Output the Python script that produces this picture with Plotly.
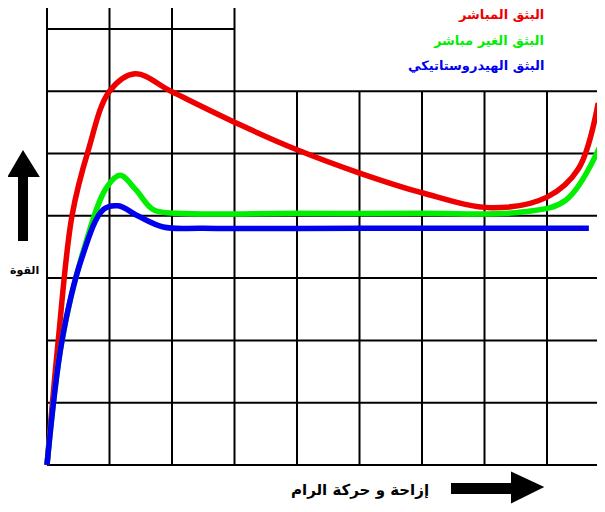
import plotly.graph_objects as go

OFF = 8  # page body margin
W, H = 605 - OFF, 512 - OFF
# axis geometry (grid units), in screen pixels
X0PX, XSTEP = 47 - OFF, 62.5
Y0PX, YSTEP = 465 - OFF, 62.3
xr = [-X0PX / XSTEP, (W - X0PX) / XSTEP]
yr = [-(H - Y0PX) / YSTEP, Y0PX / YSTEP]

# data (grid units)
red_x = [0, 0.18, 0.40, 0.66, 1.0, 1.41, 2.0, 3.09, 4.0, 4.99, 6.0, 7.1, 8.0, 8.5, 8.82]
red_y = [0, 2.0, 4.0, 5.05, 6.0, 6.28, 5.99, 5.46, 5.06, 4.69, 4.37, 4.13, 4.30, 4.75, 5.81]

green_x = [0, 0.24, 0.60, 0.95, 1.17, 1.42, 1.70, 2.1, 4.0, 6.0, 7.6, 8.3, 8.9]
green_y = [0, 2.0, 3.5, 4.45, 4.65, 4.42, 4.10, 4.04, 4.04, 4.04, 4.06, 4.25, 5.23]

blue_x = [0, 0.24, 0.55, 0.90, 1.14, 1.45, 1.86, 2.5, 5.0, 8.67]
blue_y = [0, 2.0, 3.3, 4.1, 4.16, 4.0, 3.82, 3.80, 3.80, 3.80]

series_names = ["البثق المباشر", "البثق الغير مباشر", "البثق الهيدروستاتيكي"]
series_colors = ["#ee0000", "#00ee00", "#0000ee"]
y_title = "القوة"
x_title = "إزاحة و حركة الرام"

fig = go.Figure()
shapes = []
for k in range(10):
    top = yr[1] if k <= 3 else 6
    shapes.append(dict(type="line", xref="x", yref="y", x0=k, x1=k, y0=0, y1=top,
                       line=dict(color="black", width=2), layer="below"))
for k in range(8):
    right = 3 if k == 7 else xr[1]
    shapes.append(dict(type="line", xref="x", yref="y", x0=0, x1=right, y0=k, y1=k,
                       line=dict(color="black", width=2), layer="below"))

def P(px, py):
    return f"{(px - OFF) / W:.5f},{1 - (py - OFF) / H:.5f}"

up_arrow = "M " + " L ".join(P(*p) for p in [(19, 240), (19, 176), (9, 176), (23, 152), (38, 176), (27, 176), (27, 240)]) + " Z"
right_arrow = "M " + " L ".join(P(*p) for p in [(452, 484), (512, 484), (512, 473), (542, 487), (512, 502), (512, 493), (452, 493)]) + " Z"
for path in (up_arrow, right_arrow):
    shapes.append(dict(type="path", xref="paper", yref="paper", path=path,
                       fillcolor="black", line=dict(color="black", width=2)))

for xs, ys, c, n in [(red_x, red_y, series_colors[0], series_names[0]),
                     (green_x, green_y, series_colors[1], series_names[1]),
                     (blue_x, blue_y, series_colors[2], series_names[2])]:
    fig.add_trace(go.Scatter(x=xs, y=ys, mode="lines", name=n,
                             line=dict(color=c, width=5.5, shape="spline", smoothing=1.0)))

def ax(px):
    return (px - OFF) / W

def ay(py):
    return 1 - (py - OFF) / H

ann = []
for i, (n, c) in enumerate(zip(series_names, series_colors)):
    ann.append(dict(x=ax(546), y=ay(15 + 25 * i), xref="paper", yref="paper",
                    text=f"<b>{n}</b>", showarrow=False, xanchor="right", yanchor="middle",
                    font=dict(color=c, size=13, family="DejaVu Sans")))
ann.append(dict(x=ax(24), y=ay(270), xref="paper", yref="paper", text=f"<b>{y_title}</b>",
                showarrow=False, xanchor="center", yanchor="middle",
                font=dict(color="black", size=11, family="DejaVu Sans")))
ann.append(dict(x=ax(431), y=ay(490), xref="paper", yref="paper", text=f"<b>{x_title}</b>",
                showarrow=False, xanchor="right", yanchor="middle",
                font=dict(color="black", size=15, family="DejaVu Sans")))

fig.update_layout(
    width=W, height=H, margin=dict(l=0, r=0, t=0, b=0),
    paper_bgcolor="white", plot_bgcolor="white", showlegend=False,
    xaxis=dict(range=xr, visible=False, fixedrange=True),
    yaxis=dict(range=yr, visible=False, fixedrange=True),
    shapes=shapes, annotations=ann,
)
fig.write_html("out.html")
